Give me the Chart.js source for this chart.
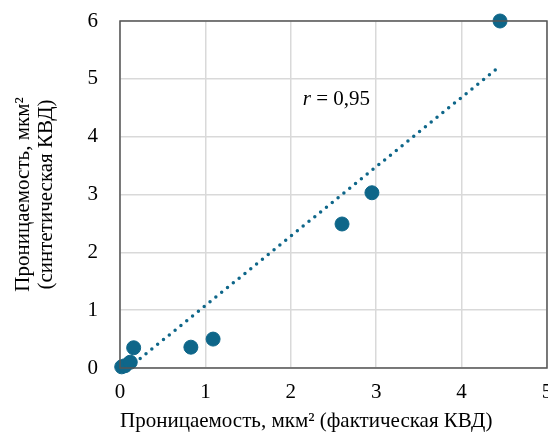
<!DOCTYPE html>
<html>
<head>
<meta charset="utf-8">
<script src="https://cdn.jsdelivr.net/npm/chart.js@4/dist/chart.umd.min.js"></script>
<style>
	html, body { margin: 0; padding: 0; background: #fff; overflow: hidden; }
	#permChart { display: block; }
</style>
</head>
<body>
<canvas id="permChart" width="548" height="434"></canvas>
<script>
// actual vs synthetic permeability, um^2
var actualK = [0.02, 0.06, 0.12, 0.16, 0.83, 1.09, 2.60, 2.95, 4.45];
var synthK = [0.02, 0.04, 0.10, 0.35, 0.36, 0.50, 2.49, 3.03, 6.00];

// linear trend line ends
var trendX = [0.10, 4.45];
var trendY = [0.00, 5.22];

var xTicks = [0, 1, 2, 3, 4, 5];
var yTicks = [0, 1, 2, 3, 4, 5, 6];

var corrText = '0,95';
var corrAt = { x: 2.14, y: 4.64 };

var blue = '#0e6689';
var font = 'Liberation Serif, "Times New Roman", serif';
var fs = 21;

var pts = [];
for (var i = 0; i < actualK.length; i++) {
	pts.push({ x: actualK[i], y: synthK[i] });
}
var trendPts = [];
for (var j = 0; j < trendX.length; j++) {
	trendPts.push({ x: trendX[j], y: trendY[j] });
}

// frame around the plot + r label
var framePlugin = {
	id: 'frame',
	afterDatasetsDraw: function(chart) {
		var a = chart.chartArea;
		var c = chart.ctx;
		c.save();
		c.strokeStyle = '#555555';
		c.lineWidth = 1.5;
		c.strokeRect(a.left, a.top, a.right - a.left, a.bottom - a.top);

		var px = chart.scales.x.getPixelForValue(corrAt.x);
		var py = chart.scales.y.getPixelForValue(corrAt.y);
		c.fillStyle = '#000';
		c.textBaseline = 'middle';
		c.textAlign = 'left';
		c.font = 'italic ' + fs + 'px ' + font;
		c.fillText('r', px, py);
		var w = c.measureText('r').width;
		c.font = fs + 'px ' + font;
		c.fillText(' = ' + corrText, px + w, py);
		c.restore();
	}
};

var ctx = document.getElementById('permChart').getContext('2d');
new Chart(ctx, {
	type: 'scatter',
	data: {
		datasets: [
			{
				label: 'trend',
				type: 'line',
				data: trendPts,
				borderColor: blue,
				borderWidth: 3.5,
				borderDash: [0, 7.5],
				borderCapStyle: 'round',
				pointRadius: 0,
				fill: false
			},
			{
				label: 'points',
				data: pts,
				backgroundColor: blue,
				borderColor: blue,
				pointRadius: 7,
				pointHoverRadius: 7,
				clip: false
			}
		]
	},
	options: {
		responsive: false,
		animation: false,
		layout: { autoPadding: false, padding: { top: 21, right: 1, left: 0, bottom: 0 } },
		scales: {
			x: {
				type: 'linear',
				min: 0,
				max: 5,
				afterBuildTicks: function(s) { s.ticks = xTicks.map(function(v) { return { value: v }; }); },
				afterFit: function(s) {
					s.height = 66;
					s.paddingLeft = 0;
					s.paddingRight = 0;
				},
				grid: { color: '#d9d9d9', lineWidth: 1.5, drawTicks: false },
				border: { display: false },
				ticks: { color: '#000', font: { family: font, size: fs }, padding: 12, maxRotation: 0 },
				title: {
					display: true,
					align: 'start',
					text: 'Проницаемость, мкм² (фактическая КВД)',
					color: '#000',
					font: { family: font, size: fs },
					padding: { top: 2, bottom: 0 }
				}
			},
			y: {
				type: 'linear',
				min: 0,
				max: 6,
				afterBuildTicks: function(s) { s.ticks = yTicks.map(function(v) { return { value: v }; }); },
				afterFit: function(s) {
					s.width = 120;
					s.paddingTop = 0;
					s.paddingBottom = 0;
				},
				grid: { color: '#d9d9d9', lineWidth: 1.5, drawTicks: false },
				border: { display: false },
				ticks: { color: '#000', font: { family: font, size: fs }, padding: 22 },
				title: {
					display: true,
					text: ['Проницаемость, мкм²', '(синтетическая КВД)'],
					color: '#000',
					font: { family: font, size: fs, lineHeight: 1.1 },
					padding: { top: 12, bottom: 0 }
				}
			}
		},
		plugins: {
			legend: { display: false },
			tooltip: { enabled: false }
		}
	},
	plugins: [framePlugin]
});
</script>
</body>
</html>
